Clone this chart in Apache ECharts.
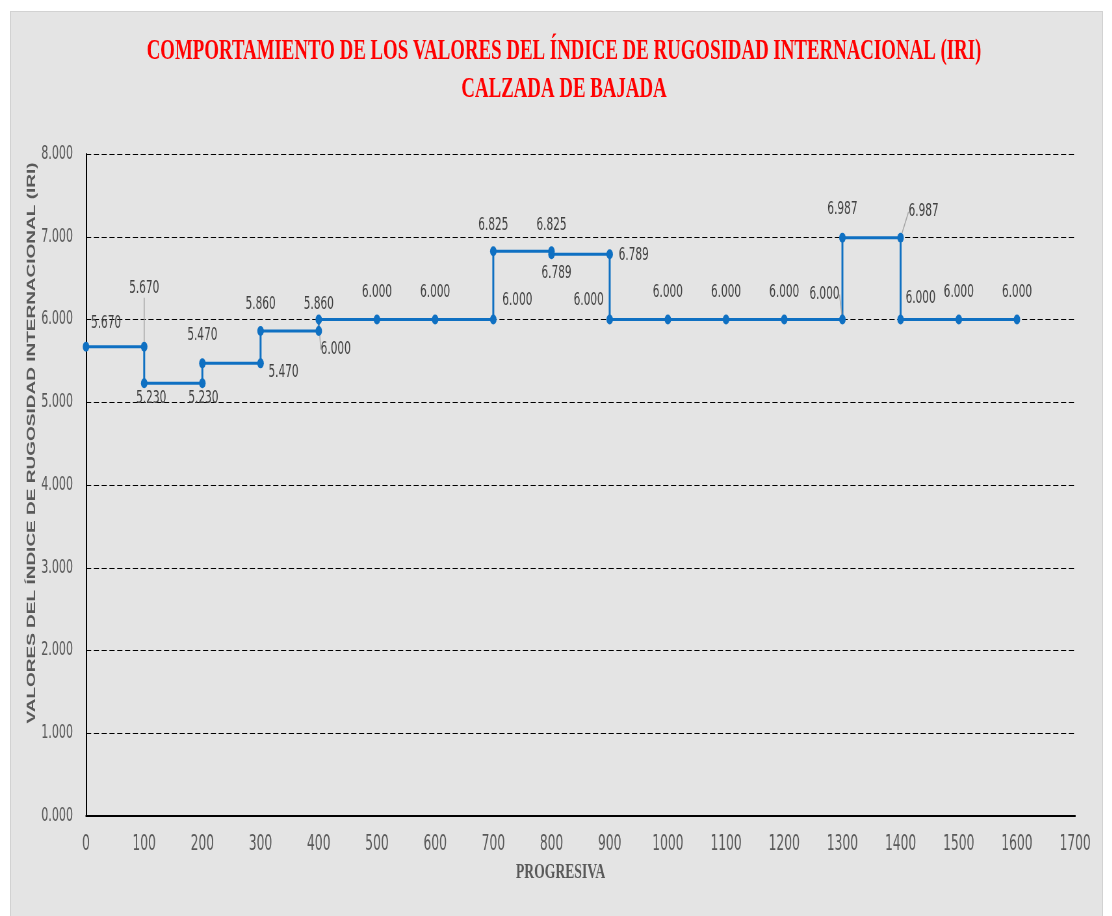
<!DOCTYPE html>
<html>
<head>
<meta charset="utf-8">
<script src="https://cdn.jsdelivr.net/npm/echarts@6/dist/echarts.min.js"></script>
<style>
  html, body { margin: 0; padding: 0; background: #ffffff; overflow: hidden; }
  #panel {
    position: absolute; left: 10px; top: 11px; width: 1091px; height: 905px;
    background: #e4e4e4; border: 1px solid #d2d2d2; border-bottom: none;
  }
  /* The chart is laid out wide and squeezed horizontally, giving the narrow lettering and oval markers */
  #chart {
    position: absolute; left: 0; top: 0; width: 1711px; height: 916px;
    transform: scaleX(0.65); transform-origin: 0 0;
  }
</style>
</head>
<body>
<div id="panel"></div>
<div id="chart"></div>
<script>
// Progresiva (m) and IRI values; repeated stations give the vertical steps
const progresiva = [0, 100, 100, 200, 200, 300, 300, 400, 400, 500, 600, 700, 700, 800, 800, 900, 900, 1000, 1100, 1200, 1300, 1300, 1400, 1400, 1500, 1600];
const iri = [5.670, 5.670, 5.230, 5.230, 5.470, 5.470, 5.860, 5.860, 6.000, 6.000, 6.000, 6.000, 6.825, 6.825, 6.789, 6.789, 6.000, 6.000, 6.000, 6.000, 6.000, 6.987, 6.987, 6.000, 6.000, 6.000];
const xTicks = [0, 1700, 100];       // min, max, interval
const yTicks = [0, 8, 1];            // min, max, interval

const titleLines = ['COMPORTAMIENTO DE LOS VALORES DEL ÍNDICE DE RUGOSIDAD INTERNACIONAL (IRI)', 'CALZADA DE BAJADA'];
const xName = 'PROGRESIVA';
const yName = 'VALORES DEL ÍNDICE DE RUGOSIDAD INTERNACIONAL (IRI)';

// Horizontal squeeze applied to the whole drawing (see #chart transform)
const SQUEEZE = 0.65;
// Label placement for each point: [dx, dy] in on-screen pixels from the marker centre
const labelShift = [
  [20, -23], [0, -58], [7, 15], [1, 15], [0, -28], [23, 9], [0, -27], [0, -27], [17, 30],
  [0, -27], [0, -27], [24, -19], [0, -26], [0, -26], [5, 19], [24, 1], [-21, -19],
  [0, -27], [0, -27], [0, -27], [-18, -25], [0, -28], [23, -26], [20, -21], [0, -27], [0, -27]
];
// Points whose label is tied back to the marker by a thin leader
const leaderPoints = [1, 8, 20, 22];

const blue = '#0f70c2';
const narrow = "'Liberation Sans Narrow', 'Arial Narrow', 'DejaVu Sans Condensed', sans-serif";
const serif = "'Liberation Serif', 'Times New Roman', serif";

const seriesData = progresiva.map((x, i) => leaderPoints.includes(i)
  ? { value: [x, iri[i]], labelLine: { show: true } }
  : [x, iri[i]]);

const px = v => v / SQUEEZE;   // on-screen horizontal pixels -> layout pixels

const chart = echarts.init(document.getElementById('chart'));
chart.setOption({
  animation: false,
  backgroundColor: 'transparent',
  title: {
    text: titleLines.join('\n'),
    left: px(564),
    textAlign: 'center',
    top: 33,
    padding: 0,
    textStyle: {
      color: '#ff0000',
      fontFamily: serif,
      fontWeight: 'bold',
      fontSize: 29,
      lineHeight: 38
    }
  },
  grid: { left: px(86), right: px(37), top: 154, bottom: 100, containLabel: false },
  xAxis: {
    type: 'value',
    min: xTicks[0], max: xTicks[1], interval: xTicks[2],
    name: xName,
    nameLocation: 'middle',
    nameGap: 46,
    nameMoveOverlap: false,
    nameTextStyle: {
      color: '#595959',
      fontFamily: serif,
      fontWeight: 'bold',
      fontSize: 21,
      padding: [0, px(40), 0, 0]
    },
    axisLine: { show: true, lineStyle: { color: '#000000', width: 2 } },
    axisTick: { show: false },
    axisLabel: {
      color: '#595959', fontFamily: narrow, fontSize: 21, margin: 18,
      formatter: v => String(v)
    },
    splitLine: { show: false }
  },
  yAxis: {
    type: 'value',
    min: yTicks[0], max: yTicks[1], interval: yTicks[2],
    name: yName,
    nameLocation: 'middle',
    nameGap: px(48),
    nameMoveOverlap: false,
    nameTextStyle: {
      color: '#595959',
      fontFamily: "'Liberation Sans', Arial, sans-serif",
      fontWeight: 'bold',
      fontSize: 19,
      padding: [0, 0, 0, 84]
    },
    axisLine: { show: true, lineStyle: { color: '#000000', width: 2 } },
    axisTick: { show: false },
    axisLabel: {
      color: '#595959', fontFamily: narrow, fontSize: 19, margin: px(13),
      formatter: v => v.toFixed(3)
    },
    splitLine: { show: true, lineStyle: { color: '#000000', width: 1, type: [8, 4] } }
  },
  series: [{
    type: 'line',
    data: seriesData,
    symbol: 'circle',
    symbolSize: 10,
    lineStyle: { color: blue, width: 3 },
    itemStyle: { color: blue },
    label: {
      show: true,
      position: 'inside',
      align: 'center',
      verticalAlign: 'middle',
      color: '#404040',
      fontFamily: narrow,
      fontSize: 18,
      formatter: p => p.value[1].toFixed(3)
    },
    labelLine: { show: false, length2: 0, lineStyle: { color: '#a6a6a6', width: 1.5 } },
    labelLayout: p => {
      const s = labelShift[p.dataIndex];
      const dx = px(s[0]), dy = s[1];
      if (leaderPoints.includes(p.dataIndex)) {
        return {
          x: p.rect.x + p.rect.width / 2 + dx,
          y: p.rect.y + p.rect.height / 2 + dy,
          align: 'center',
          verticalAlign: 'middle'
        };
      }
      return { dx: dx, dy: dy };
    }
  }]
});
</script>
</body>
</html>
